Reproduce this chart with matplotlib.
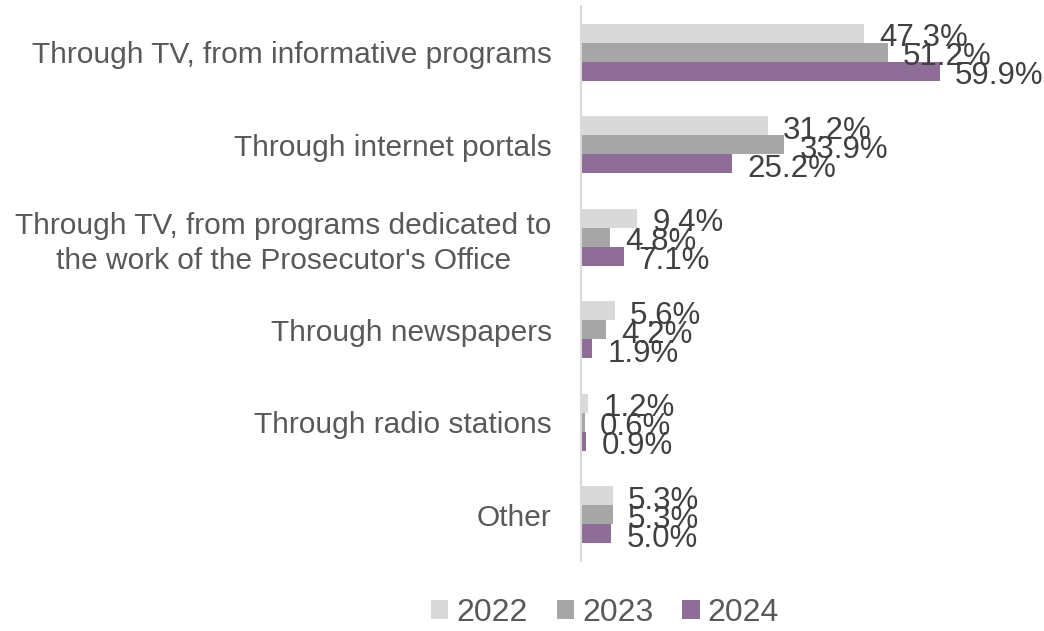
import matplotlib
matplotlib.use("Agg")
import matplotlib.pyplot as plt
import numpy as np

categories = [
    "Through TV, from informative programs",
    "Through internet portals",
    "Through TV, from programs dedicated to\nthe work of the Prosecutor's Office",
    "Through newspapers",
    "Through radio stations",
    "Other",
]
series_names = ["2022", "2023", "2024"]
values_2022 = [47.3, 31.2, 9.4, 5.6, 1.2, 5.3]
values_2023 = [51.2, 33.9, 4.8, 4.2, 0.6, 5.3]
values_2024 = [59.9, 25.2, 7.1, 1.9, 0.9, 5.0]
colors = ["#D9D9D9", "#A6A6A6", "#8E6E97"]

plt.rcParams['font.family'] = ['Liberation Sans', 'DejaVu Sans']

fig = plt.figure(figsize=(10.44, 6.31), dpi=100)
W, H = 1044, 631
ax = fig.add_axes([581 / W, 1 - 561 / H, (1040 - 581) / W, (561 - 6) / H])

y = np.arange(len(categories))
bh = 0.205
all_vals = [values_2022, values_2023, values_2024]
for i, (vals, name, col) in enumerate(zip(all_vals, series_names, colors)):
    pos = y + (i - 1) * bh
    bars = ax.barh(pos, vals, height=bh, color=col, label=name)
    for b, v in zip(bars, vals):
        ax.annotate(f"{v:.1f}%", (b.get_width(), b.get_y() + b.get_height() / 2),
                    xytext=(11, -3.5), textcoords="offset points",
                    ha="left", va="center", fontsize=22.5, color="#404040")

ax.set_xlim(0, 76.6)
ax.set_ylim(len(categories) - 0.5, -0.5)
ax.set_yticks(y)
ax.set_yticklabels(categories, fontsize=21.5, color="#595959",
                   multialignment="center", linespacing=1.3)
ax.tick_params(axis="y", length=0, pad=21)
ax.set_xticks([])
for s in ["top", "right", "bottom"]:
    ax.spines[s].set_visible(False)
ax.spines["left"].set_color("#D9D9D9")
ax.spines["left"].set_linewidth(1.5)

leg = fig.legend(loc="center", bbox_to_anchor=(605 / W, 1 - 613 / H), ncol=3,
                 frameon=False, fontsize=23, handlelength=0.55, handleheight=0.55,
                 handletextpad=0.25, columnspacing=0.9, labelcolor="#595959")

fig.savefig("out.png", dpi=100)
